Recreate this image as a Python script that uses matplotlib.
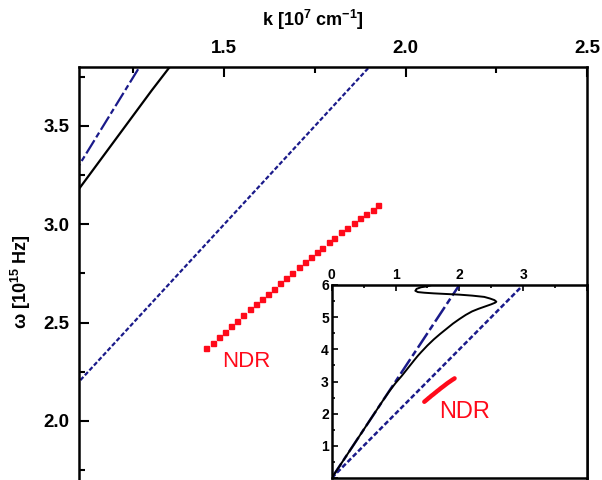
import matplotlib
matplotlib.use('Agg')
import matplotlib.pyplot as plt
from matplotlib.ticker import MultipleLocator, FormatStrFormatter

plt.rcParams['font.family'] = ['Liberation Sans', 'DejaVu Sans']
plt.rcParams['mathtext.default'] = 'regular'

# light lines (omega = 3k and omega = 2k)
dashdot_k = [0.0, 2.0]
dashdot_w = [0.0, 6.0]
dotted_k = [0.0, 3.0]
dotted_w = [0.0, 6.0]

# dispersion curve
curve_k = [0.0, 0.2, 0.4, 0.6, 0.8, 0.9, 1.0, 1.1, 1.2, 1.3, 1.35, 1.4, 1.5, 1.6,
           1.7, 1.8, 1.9, 2.0, 2.1, 2.2, 2.3, 2.4, 2.5, 2.56, 2.58, 2.55, 2.48,
           2.39, 2.2, 2.0, 1.8, 1.6, 1.45, 1.35, 1.31, 1.33, 1.40, 1.50, 1.60]
curve_w = [0.0, 0.6, 1.2, 1.8, 2.4, 2.69, 2.95, 3.18, 3.43, 3.68, 3.80, 3.91, 4.12, 4.31,
           4.48, 4.64, 4.80, 4.94, 5.07, 5.18, 5.26, 5.33, 5.40, 5.45, 5.48, 5.53, 5.58,
           5.63, 5.67, 5.70, 5.72, 5.74, 5.76, 5.78, 5.82, 5.88, 5.93, 5.96, 6.02]

# NDR branch
ndr_k = [1.451, 1.468, 1.485, 1.502, 1.518, 1.536, 1.552, 1.570, 1.587, 1.604,
         1.620, 1.637, 1.653, 1.671, 1.688, 1.705, 1.722, 1.738, 1.755, 1.771,
         1.788, 1.804, 1.822, 1.839, 1.857, 1.874, 1.891, 1.909, 1.925]
ndr_w = [2.370, 2.397, 2.426, 2.454, 2.483, 2.510, 2.539, 2.568, 2.593, 2.620,
         2.647, 2.673, 2.701, 2.727, 2.754, 2.783, 2.808, 2.832, 2.857, 2.882,
         2.908, 2.933, 2.959, 2.982, 3.006, 3.030, 3.053, 3.075, 3.097]

navy = '#1a1a8a'
red = '#ff0a1a'
dd_style = (0, (7, 1.5, 2.5, 1.5))
dot_style = (0, (2, 1))

fig = plt.figure(figsize=(6.02, 4.8), dpi=100)

# main panel
ax = fig.add_axes([79 / 602, 0.0, 508 / 602, 413 / 480])
ax.plot(dashdot_k, dashdot_w, color=navy, lw=1.6, ls=dd_style)
ax.plot(dotted_k, dotted_w, color=navy, lw=1.6, ls=dot_style)
ax.plot(curve_k, curve_w, color='black', lw=1.6)
ax.plot(ndr_k, ndr_w, ls='none', marker='s', ms=3.6, color=red, mec=red)
ax.text(1.494, 2.273, 'NDR', color=red, fontsize=16, va='baseline', ha='left')
ax.set_xlim(1.1, 2.5)
ax.set_ylim(1.7, 3.8)
ax.xaxis.set_major_locator(MultipleLocator(0.5))
ax.xaxis.set_minor_locator(MultipleLocator(0.25))
ax.yaxis.set_major_locator(MultipleLocator(0.5))
ax.yaxis.set_minor_locator(MultipleLocator(0.25))
ax.xaxis.set_major_formatter(FormatStrFormatter('%.1f'))
ax.yaxis.set_major_formatter(FormatStrFormatter('%.1f'))
ax.tick_params(which='both', direction='in', top=True, bottom=False, left=True,
               right=False, labeltop=True, labelbottom=False, width=1.5)
ax.tick_params(which='major', length=7, labelsize=13.5, pad=7)
ax.tick_params(which='minor', length=4)
for lab in ax.get_xticklabels() + ax.get_yticklabels():
    lab.set_fontweight('bold')
ax.spines['bottom'].set_visible(False)
for s in ['top', 'left', 'right']:
    ax.spines[s].set_linewidth(1.8)
ax.xaxis.set_label_position('top')
ax.set_xlabel(r'k [10$^{7}$ cm$^{-1}$]', fontsize=13, fontweight='bold')
ax.xaxis.set_label_coords(0.46, 1.10)
ax.set_ylabel(r'$\omega$ [10$^{15}$ Hz]', fontsize=13, fontweight='bold')
ax.yaxis.set_label_coords(-0.09, 0.48)

# inset
ax2 = fig.add_axes([331.7 / 602, 2 / 480, 255.3 / 602, 193 / 480])
ax2.plot(dashdot_k, dashdot_w, color=navy, lw=1.8, ls=dd_style)
ax2.plot(dotted_k, dotted_w, color=navy, lw=1.8, ls=dot_style)
ax2.plot(curve_k, curve_w, color='black', lw=1.4)
ax2.plot(ndr_k, ndr_w, color=red, lw=3.2, solid_capstyle='round')
ax2.text(1.68, 1.85, 'NDR', color=red, fontsize=17, va='baseline', ha='left')
ax2.set_xlim(0, 4)
ax2.set_ylim(0, 6)
ax2.set_xticks([0, 1, 2, 3, 4])
ax2.set_xticklabels(['0', '1', '2', '3', ''])
ax2.set_yticks([0, 1, 2, 3, 4, 5, 6])
ax2.set_yticklabels(['', '1', '2', '3', '4', '5', '6'])
ax2.xaxis.set_minor_locator(MultipleLocator(0.5))
ax2.yaxis.set_minor_locator(MultipleLocator(0.5))
ax2.tick_params(which='both', direction='in', top=True, bottom=False, left=True,
                right=False, labeltop=True, labelbottom=False, width=1.2)
ax2.tick_params(which='major', length=4, labelsize=10, pad=2)
ax2.tick_params(which='minor', length=2.5)
for lab in ax2.get_xticklabels() + ax2.get_yticklabels():
    lab.set_fontweight('bold')
for s in ax2.spines.values():
    s.set_linewidth(1.8)

fig.savefig('out.png', dpi=100)
